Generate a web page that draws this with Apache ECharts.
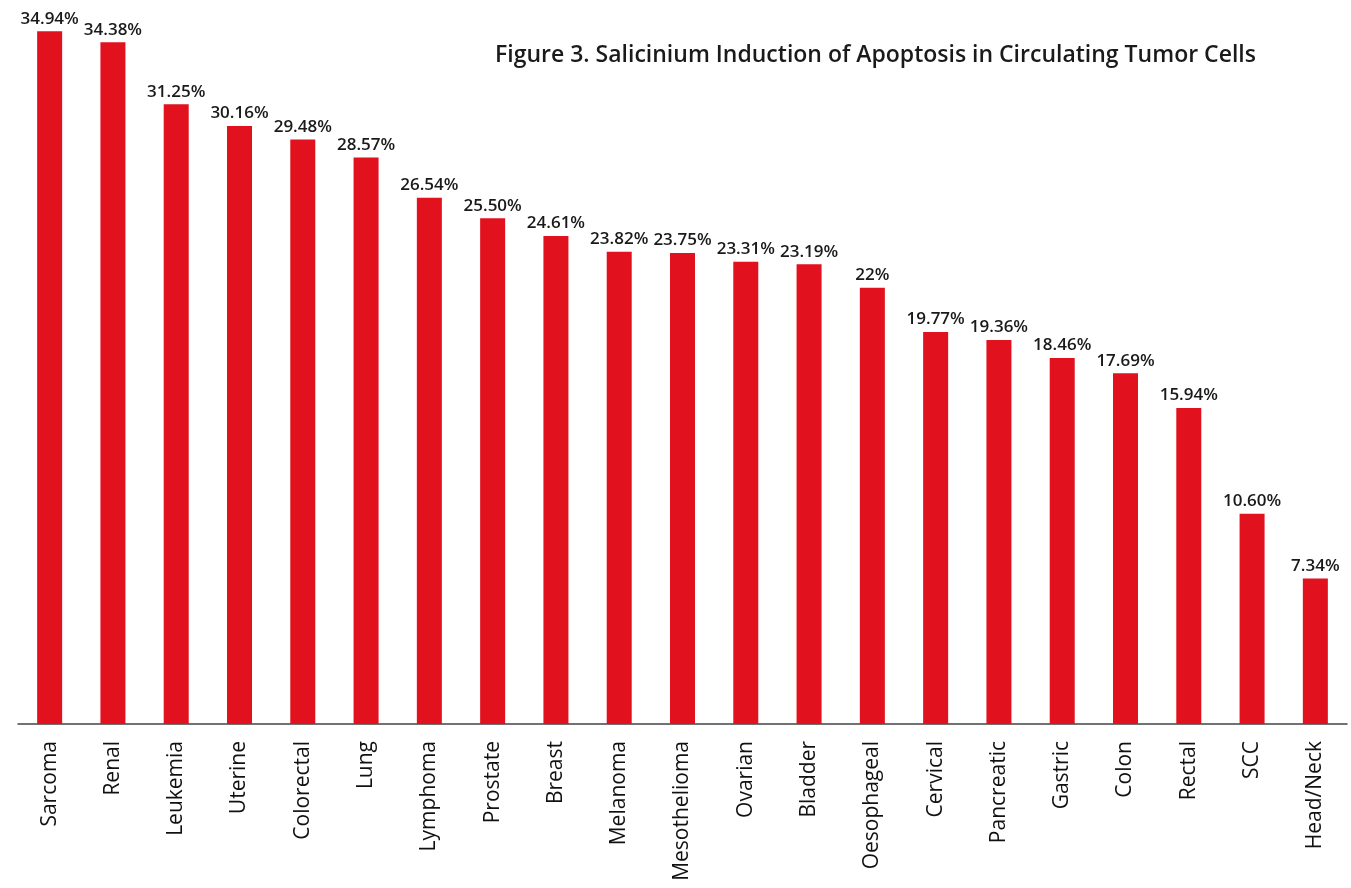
<!DOCTYPE html>
<html>
<head>
<meta charset="utf-8">
<script src="https://cdn.jsdelivr.net/npm/echarts@6/dist/echarts.min.js"></script>
<style>
  html, body { margin: 0; padding: 0; background: #fff; }
  #chart { width: 1351px; height: 888px; }
</style>
</head>
<body>
<div id="chart"></div>
<script>
const categories = ["Sarcoma", "Renal", "Leukemia", "Uterine", "Colorectal", "Lung", "Lymphoma",
  "Prostate", "Breast", "Melanoma", "Mesothelioma", "Ovarian", "Bladder", "Oesophageal",
  "Cervical", "Pancreatic", "Gastric", "Colon", "Rectal", "SCC", "Head/Neck"];
const values = [34.94, 34.38, 31.25, 30.16, 29.48, 28.57, 26.54, 25.50, 24.61, 23.82, 23.75,
  23.31, 23.19, 22, 19.77, 19.36, 18.46, 17.69, 15.94, 10.60, 7.34];
const valueLabels = ["34.94%", "34.38%", "31.25%", "30.16%", "29.48%", "28.57%", "26.54%",
  "25.50%", "24.61%", "23.82%", "23.75%", "23.31%", "23.19%", "22%", "19.77%", "19.36%",
  "18.46%", "17.69%", "15.94%", "10.60%", "7.34%"];

const chart = echarts.init(document.getElementById("chart"));
chart.setOption({
  animation: false,
  title: {
    text: "Figure 3. Salicinium Induction of Apoptosis in Circulating Tumor Cells",
    left: 490,
    top: 39,
    textStyle: {
      fontFamily: "Open Sans",
      fontSize: 23,
      fontWeight: 600,
      color: "#1a1a1a",
    },
  },
  grid: { left: 18, right: 4, top: 30, bottom: 164 },
  xAxis: {
    type: "category",
    data: categories,
    axisLine: { lineStyle: { color: "#444", width: 1.5 } },
    axisTick: { show: false },
    axisLabel: {
      rotate: 90,
      interval: 0,
      margin: 17,
      fontFamily: "Open Sans",
      fontSize: 21,
      color: "#111",
    },
  },
  yAxis: {
    type: "value",
    min: 0,
    max: 35,
    show: false,
  },
  series: [
    {
      type: "bar",
      data: values,
      barWidth: 25,
      itemStyle: { color: "#E2111E" },
      label: {
        show: true,
        position: "top",
        distance: 4,
        fontFamily: "Open Sans",
        fontSize: 17,
        fontWeight: 600,
        color: "#1a1a1a",
        formatter: (p) => valueLabels[p.dataIndex],
      },
    },
  ],
});
</script>
</body>
</html>
